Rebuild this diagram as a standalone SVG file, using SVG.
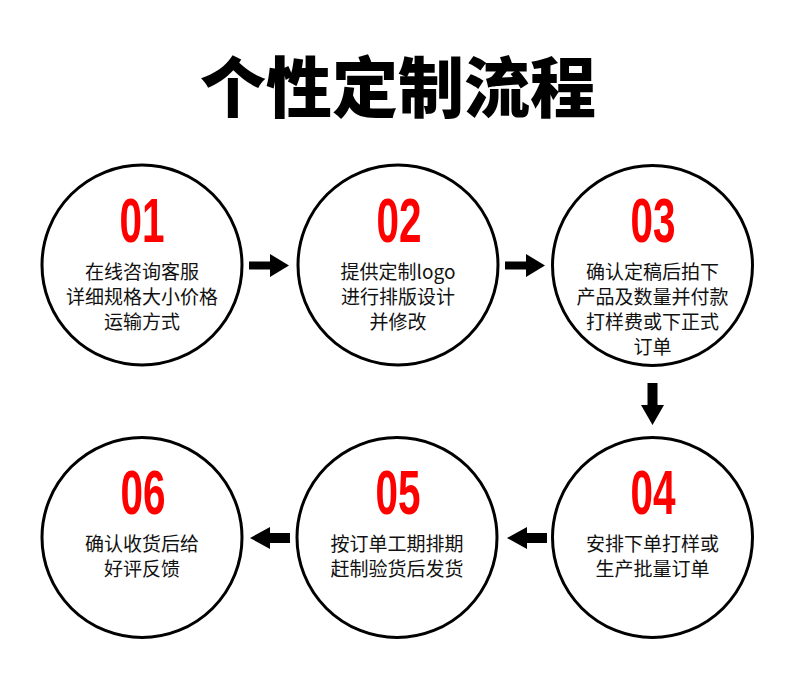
<svg xmlns="http://www.w3.org/2000/svg" width="800" height="700" viewBox="0 0 800 700">
<style>
.c{fill:#fff;stroke:#000;stroke-width:3}
.n{font-family:"Liberation Sans",Arial,sans-serif;font-weight:bold;font-size:63px;fill:#ff0000;text-anchor:middle}
.t{font-family:"Noto Sans CJK SC","Noto Sans",sans-serif;font-size:19px;fill:#111;text-anchor:middle}
.h{font-family:"Noto Sans CJK SC","Noto Sans",sans-serif;font-weight:900;font-size:66px;fill:#000;text-anchor:middle}
.a{fill:#000}
</style>
<rect width="800" height="700" fill="#fff"/>
<text class="h" x="398" y="112">个性定制流程</text>
<g id="node1">
<circle class="c" cx="142" cy="265" r="100"/>
<text class="n" x="142" y="242" textLength="45" lengthAdjust="spacingAndGlyphs">01</text>
<text class="t" x="142" y="279">在线咨询客服</text>
<text class="t" x="142" y="304">详细规格大小价格</text>
<text class="t" x="142" y="329">运输方式</text>
</g>
<g id="node2">
<circle class="c" cx="398" cy="265" r="100"/>
<text class="n" x="399" y="242" textLength="45" lengthAdjust="spacingAndGlyphs">02</text>
<text class="t" x="398" y="279">提供定制logo</text>
<text class="t" x="398" y="304">进行排版设计</text>
<text class="t" x="398" y="329">并修改</text>
</g>
<g id="node3">
<circle class="c" cx="652.5" cy="265.5" r="100"/>
<text class="n" x="653" y="242" textLength="45" lengthAdjust="spacingAndGlyphs">03</text>
<text class="t" x="652.5" y="279">确认定稿后拍下</text>
<text class="t" x="652.5" y="304">产品及数量并付款</text>
<text class="t" x="652.5" y="329">打样费或下正式</text>
<text class="t" x="652.5" y="354">订单</text>
</g>
<g id="node4">
<circle class="c" cx="652.5" cy="537.5" r="100"/>
<text class="n" x="653" y="514" textLength="45" lengthAdjust="spacingAndGlyphs">04</text>
<text class="t" x="652.5" y="551">安排下单打样或</text>
<text class="t" x="652.5" y="576">生产批量订单</text>
</g>
<g id="node5">
<circle class="c" cx="397" cy="537.5" r="100"/>
<text class="n" x="398" y="514" textLength="45" lengthAdjust="spacingAndGlyphs">05</text>
<text class="t" x="397" y="551">按订单工期排期</text>
<text class="t" x="397" y="576">赶制验货后发货</text>
</g>
<g id="node6">
<circle class="c" cx="142" cy="537.5" r="100"/>
<text class="n" x="143" y="514" textLength="45" lengthAdjust="spacingAndGlyphs">06</text>
<text class="t" x="142" y="551">确认收货后给</text>
<text class="t" x="142" y="576">好评反馈</text>
</g>
<g id="connectors">
<polygon class="a" points="249,261.5 270,261.5 270,254 289,265.5 270,277 270,269.5 249,269.5"/>
<polygon class="a" points="505,261.5 526,261.5 526,254 545,265.5 526,277 526,269.5 505,269.5"/>
<polygon class="a" points="647.5,383 657.5,383 657.5,405 664,405 652.5,425 641,405 647.5,405"/>
<polygon class="a" points="547,533 527,533 527,527 507,538 527,549 527,543 547,543"/>
<polygon class="a" points="290,533 270,533 270,527 250,538 270,549 270,543 290,543"/>
</g>
</svg>
